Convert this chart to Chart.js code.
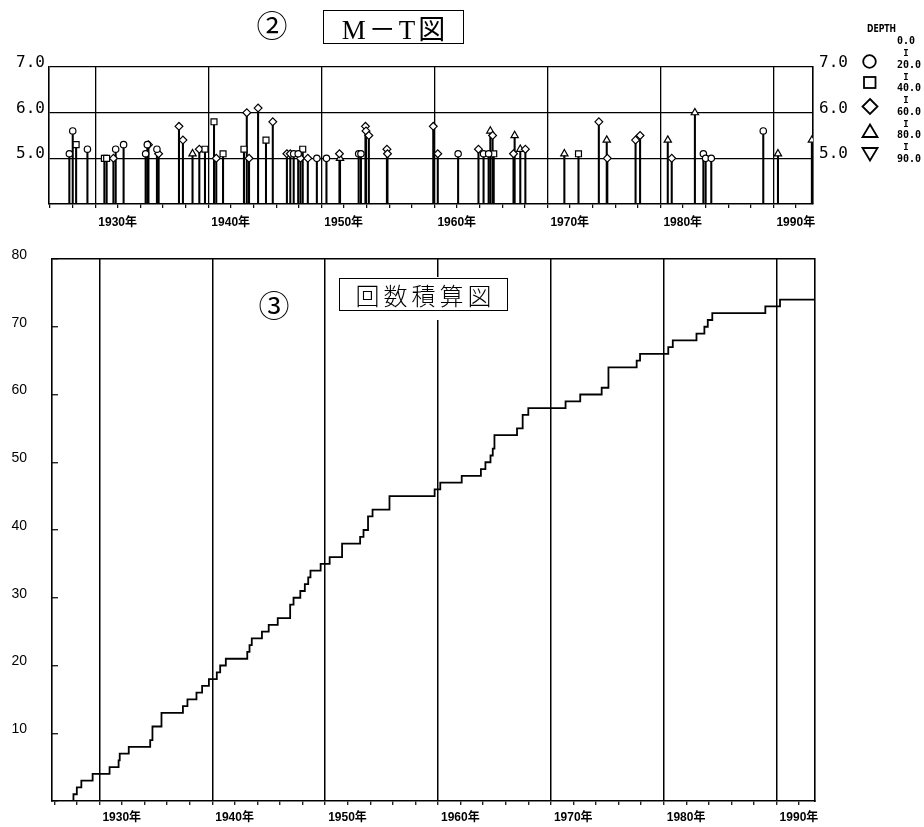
<!DOCTYPE html>
<html lang="ja">
<head>
<meta charset="utf-8">
<title>M－T図・回数積算図</title>
<script src="https://cdn.jsdelivr.net/npm/chart.js@4.4.1/dist/chart.umd.min.js"></script>
<style>
  html, body { margin: 0; padding: 0; background: #fff; }
  #page { position: relative; width: 924px; height: 827px; overflow: hidden; background: #fff; }
  #page canvas { position: absolute; left: 0; }
  #mt-chart { top: 0; }
  #cum-chart { top: 240px; }
  .txt { position: absolute; color: #000; white-space: nowrap; line-height: 1; }
  .circled { font-family: "Noto Sans CJK JP", sans-serif; font-size: 31px; width: 40px; text-align: center; }
  .title-box {
    position: absolute; box-sizing: border-box; border: 1.5px solid #000; background: #fff;
    display: flex; align-items: center; justify-content: center; color: #000; white-space: nowrap;
  }
  #mt-title { left: 323px; top: 10px; width: 141px; height: 34px;
    font-family: "Liberation Serif", "Noto Sans CJK JP", serif; font-size: 27px; letter-spacing: 3px; padding-left: 3px; }
  #cum-mask { position: absolute; left: 338px; top: 277px; width: 172px; height: 43px; background: #fff; }
  #cum-title { left: 339px; top: 278px; width: 169px; height: 33px;
    font-family: "Noto Sans CJK JP", sans-serif; font-size: 24px; font-weight: 300; letter-spacing: 4px; padding-left: 4px; }
  .depth-head { font-family: "DejaVu Sans Condensed", sans-serif; font-weight: bold; font-size: 11px;
    transform: scaleX(0.78); transform-origin: left top; }
  .depth-num { font-family: "DejaVu Sans Mono", monospace; font-weight: bold; font-size: 10px; }
  .depth-sep { font-family: "DejaVu Sans Mono", monospace; font-weight: bold; font-size: 9px; width: 10px; text-align: center; }
  #legend-marks { position: absolute; left: 855px; top: 50px; }
</style>
</head>
<body>
<div id="page">
  <canvas id="mt-chart" width="924" height="240"></canvas>
  <canvas id="cum-chart" width="924" height="587"></canvas>

  <div class="txt circled" style="left:252px;top:8px;">②</div>
  <div id="mt-title" class="title-box">M－T図</div>

  <div id="cum-mask"></div>
  <div class="txt circled" style="left:254px;top:288px;">③</div>
  <div id="cum-title" class="title-box">回数積算図</div>

  <div class="txt depth-head" style="left:867px;top:23px;">DEPTH</div>
  <div id="depth-labels"></div>
  <svg id="legend-marks" width="30" height="115" viewBox="855 50 30 115">
    <g fill="none" stroke="#000" stroke-width="1.8">
      <circle cx="869.5" cy="61.5" r="6.3"/>
      <rect x="864" y="77" width="11.5" height="11"/>
      <polygon points="870,99 877.5,106.5 870,114 862.5,106.5"/>
      <polygon points="870,124.5 877.5,137 862.5,137"/>
      <polygon points="862.5,148 877.5,148 870,160.5"/>
    </g>
  </svg>
</div>

<script>
// --- 軸範囲 (上図・下図で原図の読み取り位置が少しずれている) ---
const MT_X_MIN = 1925.9;
const MT_X_MAX = 1993.5;
const CUM_X_MIN = 1925.8;
const CUM_X_MAX = 1993.4;
const MAG_MIN = 4.0;
const MAG_MAX = 7.0;

// --- ② M－T図 : 発生年, マグニチュード, 深さ区分 (0:0-20 1:20-40 2:40-60 3:60-80 4:80-90 km) ---
const eventYears = [
  1927.7, 1928.0, 1928.3, 1929.3, 1930.8, 1931.0, 1931.6, 1931.8, 1932.5, 1934.45,
  1934.6, 1934.7, 1935.45, 1935.6, 1937.4, 1937.75, 1938.6, 1939.2, 1939.7, 1940.5,
  1940.7, 1941.3, 1943.15, 1943.4, 1943.6, 1944.4, 1945.1, 1945.7, 1946.95, 1947.25,
  1947.55, 1947.95, 1948.15, 1948.35, 1948.8, 1949.6, 1950.45, 1951.6, 1951.65, 1953.3,
  1953.5, 1953.9, 1953.95, 1954.2, 1955.8, 1955.85, 1959.9, 1960.3, 1962.1, 1963.9,
  1964.35, 1964.8, 1964.95, 1965.15, 1965.25, 1967.0, 1967.1, 1967.6, 1968.05, 1971.5,
  1972.75, 1974.55, 1975.25, 1975.3, 1977.8, 1978.2, 1980.65, 1981.0, 1983.05, 1983.8,
  1984.0, 1984.5, 1989.1, 1990.4, 1993.4,
];
const eventMags = [
  5.1, 5.6, 5.3, 5.2, 5.0, 5.0, 5.0, 5.2, 5.3, 5.1,
  5.3, 5.3, 5.2, 5.1, 5.7, 5.4, 5.1, 5.2, 5.2, 5.8,
  5.0, 5.1, 5.2, 6.0, 5.0, 6.1, 5.4, 5.8, 5.1, 5.1,
  5.1, 5.1, 5.0, 5.2, 5.0, 5.0, 5.0, 5.1, 5.0, 5.1,
  5.1, 5.7, 5.6, 5.5, 5.2, 5.1, 5.7, 5.1, 5.1, 5.2,
  5.1, 5.1, 5.6, 5.5, 5.1, 5.1, 5.5, 5.2, 5.2, 5.1,
  5.1, 5.8, 5.4, 5.0, 5.4, 5.5, 5.4, 5.0, 6.0, 5.1,
  5.0, 5.0, 5.6, 5.1, 5.4,
];
const eventDepth = [
  0, 0, 1, 0, 1, 1, 2, 0, 0, 0,
  0, 2, 0, 2, 2, 2, 3, 2, 1, 1,
  2, 1, 1, 2, 2, 2, 1, 2, 2, 2,
  0, 0, 2, 1, 2, 0, 0, 2, 3, 0,
  0, 2, 2, 2, 2, 2, 2, 2, 0, 2,
  0, 0, 3, 2, 1, 2, 3, 3, 2, 3,
  1, 2, 3, 2, 2, 2, 3, 2, 3, 0,
  0, 0, 0, 3, 3,
];
const depthBounds = ['0.0', '20.0', '40.0', '60.0', '80.0', '90.0'];

// --- ③ 回数積算図 : 階段の位置と累積回数 ---
const stepYears = [
  1925.8, 1927.7, 1928.0, 1928.4, 1929.4, 1930.9, 1931.7, 1931.8, 1932.6, 1934.5,
  1934.7, 1935.5, 1937.4, 1937.8, 1938.6, 1939.1, 1939.7, 1940.4, 1940.7, 1941.2,
  1943.1, 1943.3, 1943.5, 1944.4, 1945.0, 1945.8, 1946.9, 1947.2, 1947.8, 1948.2,
  1948.5, 1948.7, 1949.6, 1950.4, 1951.5, 1953.1, 1953.4, 1953.8, 1954.2, 1955.7,
  1959.7, 1960.2, 1962.1, 1963.8, 1964.2, 1964.65, 1964.85, 1965.0, 1967.0, 1967.5,
  1968.0, 1971.3, 1972.6, 1974.5, 1975.1, 1977.6, 1977.9, 1980.4, 1980.8, 1982.9,
  1983.6, 1983.9, 1984.3, 1989.0, 1990.3, 1993.4,
];
const stepCounts = [
  0, 1, 2, 3, 4, 5, 6, 7, 8, 9,
  11, 13, 14, 15, 16, 17, 18, 19, 20, 21,
  22, 23, 24, 25, 26, 27, 29, 30, 31, 32,
  33, 34, 35, 36, 38, 39, 40, 42, 43, 45,
  46, 47, 48, 49, 50, 51, 52, 54, 55, 57,
  58, 59, 60, 61, 64, 65, 66, 67, 68, 69,
  70, 71, 72, 73, 74, 74,
];

// marker look per depth class
const depthMarkers = [
  { style: 'circle', radius: 3.2, rotation: 0 },
  { style: 'rect', radius: 4.2, rotation: 0 },
  { style: 'rectRot', radius: 3.9, rotation: 0 },
  { style: 'triangle', radius: 4.2, rotation: 0 },
  { style: 'triangle', radius: 4.2, rotation: 180 },
];

const YEAR_FONT = '"Liberation Sans", Arial, "Noto Sans CJK JP", sans-serif';
const clear = 'rgba(0,0,0,0)';

Chart.defaults.color = '#000';
Chart.defaults.animation = false;

function isDecade(ctx) {
  return ctx.tick && Math.round(ctx.tick.value) % 10 === 0;
}

// keep the vertical axes from pushing the plot area in
function fixWidth(width) {
  return s => {
    s.width = width;
    s.paddingTop = 0;
    s.paddingBottom = 0;
  };
}

function yearAxis(min, max, labelPadding, height, gridWidth) {
  return {
    type: 'linear',
    min,
    max,
    offset: false,
    border: { display: true, color: '#000', width: 1.6 },
    grid: {
      offset: false,
      color: ctx => isDecade(ctx) ? '#000' : clear,
      lineWidth: gridWidth,
      tickColor: '#000',
      tickWidth: 1.2,
      tickLength: 4,
    },
    ticks: {
      stepSize: 2,
      includeBounds: false,
      autoSkip: false,
      maxRotation: 0,
      align: 'start',
      labelOffset: 3,
      padding: labelPadding,
      font: { family: YEAR_FONT, size: 12, weight: 'bold' },
      callback: v => (Math.round(v) % 10 === 0 ? Math.round(v) + '年' : ''),
    },
    afterFit: s => {
      s.height = height;
      s.paddingLeft = 0;
      s.paddingRight = 0;
    },
  };
}

function magAxis(position, width, padding) {
  return {
    type: 'linear',
    position,
    min: MAG_MIN,
    max: MAG_MAX,
    border: { display: true, color: '#000', width: 1.6 },
    grid: {
      drawOnChartArea: position === 'left',
      drawTicks: false,
      color: ctx => (ctx.tick && ctx.tick.value > MAG_MIN ? '#000' : clear),
      lineWidth: 1.3,
    },
    ticks: {
      stepSize: 1,
      padding,
      labelOffset: -4,
      font: { family: '"DejaVu Sans Mono", monospace', size: 16 },
      callback: v => (v === MAG_MIN ? '' : v.toFixed(1)),
    },
    afterFit: fixWidth(width),
  };
}

function buildMtChart() {
  const stems = eventYears.map((x, i) => ({ x, y: [MAG_MIN, eventMags[i]] }));
  const markerSets = depthMarkers.map((m, cls) => ({
    type: 'scatter',
    label: depthBounds[cls] + '-' + depthBounds[cls + 1],
    data: eventYears
      .map((x, i) => ({ x, y: eventMags[i], d: eventDepth[i] }))
      .filter(p => p.d === cls),
    pointStyle: m.style,
    pointRadius: m.radius,
    pointRotation: m.rotation,
    pointBackgroundColor: '#fff',
    pointBorderColor: '#000',
    pointBorderWidth: 1.2,
    order: 0,
  }));

  new Chart(document.getElementById('mt-chart'), {
    data: {
      datasets: [
        {
          type: 'bar',
          label: 'stem',
          data: stems,
          backgroundColor: '#000',
          borderWidth: 0,
          barThickness: 1.4,
          order: 1,
        },
        ...markerSets,
      ],
    },
    options: {
      responsive: false,
      layout: { padding: { top: 67, left: 0, right: 0, bottom: 0 } },
      plugins: { legend: { display: false }, tooltip: { enabled: false } },
      scales: {
        x: yearAxis(MT_X_MIN, MT_X_MAX, 7, 36, 1.3),
        y: magAxis('left', 49, 4),
        y2: magAxis('right', 111, 6),
      },
    },
  });
}

function buildCumChart() {
  new Chart(document.getElementById('cum-chart'), {
    type: 'line',
    data: {
      datasets: [{
        label: '回数',
        data: stepYears.map((x, i) => ({ x, y: stepCounts[i] })),
        stepped: true,
        borderColor: '#000',
        borderWidth: 1.8,
        pointRadius: 0,
        fill: false,
      }],
    },
    options: {
      responsive: false,
      layout: { padding: { top: 19, left: 0, right: 109, bottom: 0 } },
      plugins: { legend: { display: false }, tooltip: { enabled: false } },
      scales: {
        x: yearAxis(CUM_X_MIN, CUM_X_MAX, 5, 26, 1.5),
        y: {
          type: 'linear',
          min: 0,
          max: 80,
          border: { display: true, color: '#000', width: 1.6 },
          grid: {
            color: ctx => (ctx.tick && ctx.tick.value === 80 ? '#000' : clear),
            lineWidth: 1.5,
            tickColor: '#000',
            tickWidth: 1.2,
            tickLength: -6,
          },
          ticks: {
            stepSize: 10,
            padding: 31,
            labelOffset: -4,
            font: { family: '"Liberation Sans", Arial, sans-serif', size: 14 },
            callback: v => (v === 0 ? '' : v),
          },
          afterFit: fixWidth(52),
        },
        y2: {
          type: 'linear',
          position: 'right',
          min: 0,
          max: 80,
          border: { display: true, color: '#000', width: 1.6 },
          grid: { drawOnChartArea: false, drawTicks: false },
          ticks: { display: false },
          afterFit: fixWidth(0),
        },
      },
    },
  });
}

function buildDepthLegend() {
  const box = document.getElementById('depth-labels');
  box.innerHTML = depthBounds.map((label, i) => {
    const top = 36 + i * 23.6;
    let html = `<div class="txt depth-num" style="left:897px;top:${top.toFixed(1)}px;">${label}</div>`;
    if (i < depthBounds.length - 1) {
      html += `<div class="txt depth-sep" style="left:901px;top:${(top + 13).toFixed(1)}px;">I</div>`;
    }
    return html;
  }).join('');
}

buildMtChart();
buildCumChart();
buildDepthLegend();
</script>
</body>
</html>
